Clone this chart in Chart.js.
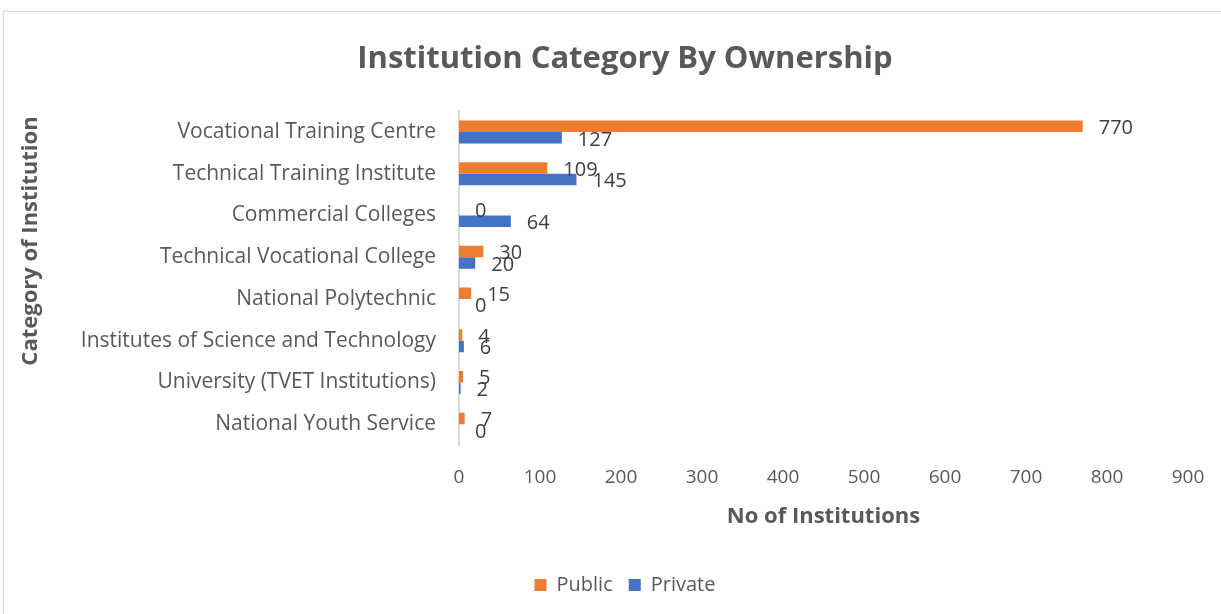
<!DOCTYPE html>
<html>
<head>
<meta charset="utf-8">
<script src="https://cdn.jsdelivr.net/npm/chart.js@4.4.0/dist/chart.umd.min.js"></script>
<style>
    body { margin: 0; background: #fff; }
    #frame { position: absolute; left: 3px; top: 11px; width: 1240px; height: 640px; border: 1px solid #d9d9d9; }
    #wrap { position: absolute; left: 0; top: 0; width: 1221px; height: 614px; }
</style>
</head>
<body>
<div id="frame"></div>
<div id="wrap"><canvas id="chart-area"></canvas></div>
<script>
// data
var categories = [
    'Vocational Training Centre',
    'Technical Training Institute',
    'Commercial Colleges',
    'Technical Vocational College',
    'National Polytechnic',
    'Institutes of Science and Technology',
    'University (TVET Institutions)',
    'National Youth Service'
];
var publicValues = [770, 109, 0, 30, 15, 4, 5, 7];
var privateValues = [127, 145, 64, 20, 0, 6, 2, 0];
var xTicks = [0, 100, 200, 300, 400, 500, 600, 700, 800, 900];

var textGrey = '#595959';
var fontName = '"Open Sans", sans-serif';

// value labels next to each bar
var barLabels = {
    id: 'barLabels',
    afterDatasetsDraw: function (chart) {
        var ctx = chart.ctx;
        ctx.save();
        ctx.font = '20px ' + fontName;
        ctx.fillStyle = '#404040';
        ctx.textAlign = 'left';
        ctx.textBaseline = 'middle';
        chart.data.datasets.forEach(function (ds, i) {
            var meta = chart.getDatasetMeta(i);
            meta.data.forEach(function (bar, j) {
                ctx.fillText(ds.data[j], bar.x + 16, bar.y + 2);
            });
        });
        ctx.restore();
    }
};

// y axis title, sits a bit above the middle of the plot like the original
var yTitle = {
    id: 'yTitle',
    afterDraw: function (chart) {
        var ctx = chart.ctx;
        ctx.save();
        ctx.translate(31, 241);
        ctx.rotate(-Math.PI / 2);
        ctx.font = 'bold 22px ' + fontName;
        ctx.fillStyle = textGrey;
        ctx.textAlign = 'center';
        ctx.textBaseline = 'middle';
        ctx.fillText('Category of Institution', 0, 0);
        ctx.restore();
    }
};

window.onload = function () {
    var ctx = document.getElementById('chart-area').getContext('2d');
    var config = {
        type: 'bar',
        data: {
            labels: categories,
            datasets: [{
                label: 'Public',
                data: publicValues,
                backgroundColor: '#ED7D31',
                categoryPercentage: 0.55,
                barPercentage: 1
            }, {
                label: 'Private',
                data: privateValues,
                backgroundColor: '#4472C4',
                categoryPercentage: 0.55,
                barPercentage: 1
            }]
        },
        options: {
            indexAxis: 'y',
            responsive: true,
            maintainAspectRatio: false,
            animation: false,
            layout: { padding: { left: 62, right: 33, top: 0, bottom: 9 } },
            scales: {
                x: {
                    min: 0,
                    max: 900,
                    afterBuildTicks: function (axis) {
                        axis.ticks = xTicks.map(function (v) { return { value: v }; });
                    },
                    // tick marks not drawn (grid hidden) but their length pushes labels down
                    grid: { display: false, drawTicks: true, tickLength: 21 },
                    border: { display: false },
                    ticks: { color: textGrey, font: { family: fontName, size: 19 }, padding: 0 },
                    title: {
                        display: true,
                        text: 'No of Institutions',
                        color: textGrey,
                        font: { family: fontName, size: 22, weight: 'bold' },
                        padding: { top: 0, bottom: 29 }
                    },
                    afterFit: function (axis) { axis.height = 114; }
                },
                y: {
                    grid: { display: false, drawTicks: false },
                    border: { display: true, color: '#d9d9d9', width: 2 },
                    ticks: { color: textGrey, font: { family: fontName, size: 21 }, padding: 23 },
                    afterFit: function (axis) { axis.width = 397; }
                }
            },
            plugins: {
                title: {
                    display: true,
                    text: 'Institution Category By Ownership',
                    color: textGrey,
                    font: { family: fontName, size: 31, weight: 'bold' },
                    padding: { top: 41, bottom: 33 }
                },
                legend: {
                    position: 'bottom',
                    labels: {
                        color: textGrey,
                        font: { family: fontName, size: 20 },
                        boxWidth: 12,
                        boxHeight: 12,
                        padding: 16
                    }
                },
                tooltip: { enabled: false }
            }
        },
        plugins: [barLabels, yTitle]
    };
    window.myBar = new Chart(ctx, config);
};
</script>
</body>
</html>
